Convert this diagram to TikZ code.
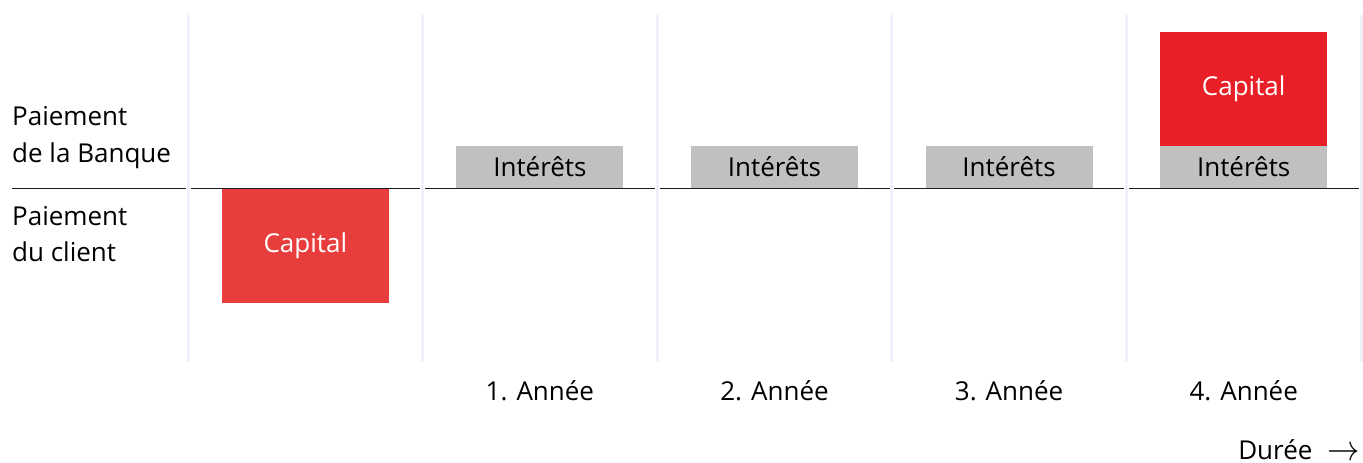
\documentclass[tikz,border=0pt]{standalone}
\usepackage{fontspec}
\setmainfont{Open Sans}
\usetikzlibrary{positioning}

\definecolor{capitalred}{RGB}{232,31,39}
\definecolor{clientred}{RGB}{232,61,61}
\definecolor{interestgray}{RGB}{192,192,192}
\definecolor{gridgray}{RGB}{238,241,247}
\definecolor{axisblack}{RGB}{30,30,30}

\tikzset{
  gridline/.style={gridgray,line width=3pt},
  axisline/.style={axisblack,line width=1.4pt},
  label/.style={inner sep=0pt,font=\fontsize{26}{31}\selectfont},
  payblock/.style={label,minimum width=167pt,outer sep=0pt},
  interestblock/.style={payblock,fill=interestgray,minimum height=42.3pt,anchor=south},
  capitalblock/.style={payblock,text=white,minimum height=113.5pt}
}

\begin{document}
\begin{tikzpicture}[x=1pt,y=-1pt,line cap=butt]
        \useasboundingbox (0,0) rectangle (1363,463);
        % column separators
        \foreach \i in {0,...,5}
          \draw [gridline] (188+234.6*\i,15) -- (188+234.6*\i,362);
        % zero line, broken at the separators
        \coordinate (axisstart) at (12,188.3);
        \coordinate (axisfirst) at (186,188.3);
        \draw [axisline] (axisstart) -- (axisfirst);
        \foreach \i in {0,...,4}
          \draw [axisline] (190.5+234.6*\i,188.3) -- (420.3+234.6*\i,188.3);
        % row labels
        \node (bankA) [label,anchor=base west] at (12,125) {Paiement};
        \node (bankB) [label,anchor=base west] at (12,162.7) {de la Banque};
        \node (clientA) [label,anchor=base west] at (12,225) {Paiement};
        \node (clientB) [label,anchor=base west] at (12,261.7) {du client};
        % client pays the capital
        \node (clientcapital) [capitalblock,fill=clientred,anchor=north] at (305.3,189) {Capital};
        % bank pays the interest each year
        \foreach \i in {1,...,4} {
          \node (interest\i) [interestblock] at (305.3+234.6*\i,188) {Intérêts};
          \node (year\i) [label,anchor=base] at (305.3+234.6*\i,400.7) {\i. Année};
        }
        % bank pays back the capital
        \node (bankcapital) [capitalblock,fill=capitalred,anchor=south] at (interest4.north) {\raisebox{-4pt}{Capital}};
        \node (duration) [label,anchor=base east] at (1360,459) {Durée\hspace{15pt}\raisebox{-1pt}{\scalebox{1.3}[1.45]{$\rightarrow$}}};
\end{tikzpicture}
\end{document}
